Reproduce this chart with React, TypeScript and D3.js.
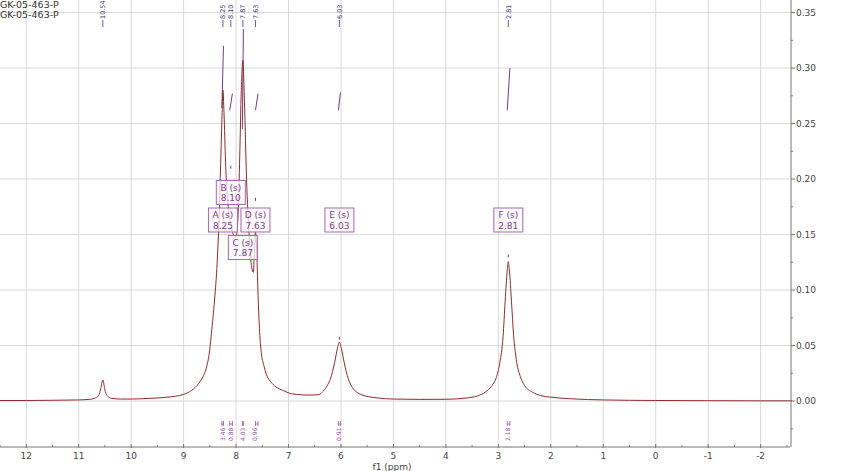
import { useMemo } from 'react';
import * as d3 from 'd3';

// spectrum trace (ppm, intensity)
const spectrumPpm = [
  12.6, 12.0, 11.5, 11.0, 10.8, 10.7, 10.62, 10.58, 10.54, 10.5, 10.46, 10.38, 10.2, 10.0,
  9.66, 9.3, 9.0, 8.85, 8.71, 8.62, 8.56, 8.5, 8.47, 8.41, 8.36, 8.32, 8.29, 8.265, 8.25, 8.23,
  8.2, 8.15, 8.1, 8.05, 8.0, 7.96, 7.93, 7.9, 7.87, 7.84, 7.8, 7.75, 7.7, 7.67, 7.65, 7.63,
  7.61, 7.58, 7.55, 7.52, 7.47, 7.43, 7.35, 7.24, 7.1, 6.99, 6.8, 6.67, 6.5, 6.41, 6.35, 6.3,
  6.25, 6.2, 6.12, 6.07, 6.03, 5.99, 5.94, 5.86, 5.78, 5.7, 5.6, 5.3, 5.0, 4.5, 4.0, 3.6,
  3.4, 3.25, 3.12, 3.04, 2.97, 2.91, 2.87, 2.83, 2.81, 2.79, 2.75, 2.71, 2.65, 2.58, 2.5, 2.35,
  2.2, 2.0, 1.6, 1.0, 0, -1, -2, -2.6,
];
const spectrumIntensity = [
  0.0005, 0.0005, 0.0007, 0.001, 0.0015, 0.0025, 0.005, 0.011, 0.019, 0.01, 0.005, 0.0025, 0.0018, 0.0018,
  0.0024, 0.0035, 0.006, 0.0095, 0.016, 0.023, 0.031, 0.047, 0.061, 0.091, 0.125, 0.17, 0.22, 0.26, 0.28, 0.26,
  0.215, 0.175, 0.16, 0.15, 0.148, 0.17, 0.22, 0.28, 0.307, 0.27, 0.2, 0.15, 0.12, 0.116, 0.135, 0.152,
  0.14, 0.095, 0.062, 0.044, 0.032, 0.025, 0.018, 0.0127, 0.0095, 0.0072, 0.0058, 0.0054, 0.0055, 0.006, 0.0085, 0.011,
  0.015, 0.02, 0.035, 0.047, 0.053, 0.047, 0.035, 0.02, 0.012, 0.008, 0.0055, 0.0028, 0.0018, 0.0015, 0.0016, 0.0028,
  0.0045, 0.008, 0.014, 0.021, 0.035, 0.058, 0.09, 0.118, 0.1255, 0.118, 0.09, 0.06, 0.035, 0.022, 0.014, 0.008,
  0.005, 0.0035, 0.002, 0.001, 0.0005, 0.0003, 0.0002, 0.0002,
];

// peak picking labels along the top
const peakPpm = [10.54, 8.25, 8.1, 7.87, 7.63, 6.03, 2.81];
const peakLabels = ['10.54', '8.25', '8.10', '7.87', '7.63', '6.03', '2.81'];

// peak markers drawn just above some peaks
const markerPpm = [8.1, 7.63, 6.03, 2.81];
const markerValue = [0.212, 0.183, 0.058, 0.132];

// multiplet boxes
const multipletNames = ['A', 'B', 'C', 'D', 'E', 'F'];
const multipletPpm = [8.25, 8.1, 7.87, 7.63, 6.03, 2.81];
const multipletLabels = ['8.25', '8.10', '7.87', '7.63', '6.03', '2.81'];

// integrals
const integralValues = ['3.46', '0.88', '4.03', '0.96', '0.91', '2.18'];
const integralStart = [8.27, 8.12, 7.88, 7.63, 6.05, 2.83];
const integralEnd = [8.24, 8.07, 7.86, 7.58, 6.01, 2.78];
const integralLow = [0.264, 0.262, 0.245, 0.262, 0.262, 0.262];
const integralHigh = [0.32, 0.277, 0.335, 0.277, 0.278, 0.3];

const xTicks = d3.range(12, -3, -1);
const yTicks = [0, 0.05, 0.1, 0.15, 0.2, 0.25, 0.3, 0.35];

const WIDTH = 845;
const HEIGHT = 471;
const FONT = '"DejaVu Sans", Verdana, sans-serif';

export default function App() {
  const plotRight = 790;
  const plotBottom = 447;

  const x = d3.scaleLinear().domain([12.5, -2.56]).range([0, plotRight]);
  const y = d3.scaleLinear().domain([-0.0414, 0.3613]).range([plotBottom, 0]);

  const spectrumPath = useMemo(() => {
    const pts = spectrumPpm.map((p, i) => [p, spectrumIntensity[i]] as [number, number]);
    return (
      d3
        .line<[number, number]>()
        .x((d) => x(d[0]))
        .y((d) => y(d[1]))
        .curve(d3.curveMonotoneX)(pts) || ''
    );
  }, []);

  const minorX = d3.range(12.5, -2.6, -0.5).filter((v) => !Number.isInteger(v));
  const minorY = d3.range(-0.025, 0.36, 0.05);

  // row offsets of the multiplet boxes (B sits above, C below)
  const boxRow = [0, -1, 1, 0, 0, 0];

  return (
    <svg
      width={WIDTH}
      height={HEIGHT}
      style={{ position: 'absolute', left: 0, top: 0, background: '#fff' }}
      fontFamily={FONT}
    >
      {/* grid */}
      <g stroke="#d9d9d9" strokeWidth={1}>
        {xTicks.map((t) => (
          <line key={'gx' + t} x1={x(t)} x2={x(t)} y1={0} y2={plotBottom} />
        ))}
        {yTicks.map((t) => (
          <line key={'gy' + t} x1={0} x2={plotRight} y1={y(t)} y2={y(t)} />
        ))}
      </g>

      {/* titles */}
      <text x={0} y={7.5} fontSize={9.5} fill="#333">GK-05-463-P</text>
      <text x={0} y={18} fontSize={9.5} fill="#333">GK-05-463-P</text>

      {/* integral curves */}
      <g stroke="#6e3b8c" strokeWidth={1} fill="none">
        {integralStart.map((s, i) => (
          <line
            key={'ic' + i}
            x1={x(s)}
            y1={y(integralLow[i])}
            x2={x(integralEnd[i])}
            y2={y(integralHigh[i])}
          />
        ))}
      </g>

      {/* spectrum */}
      <path d={spectrumPath} fill="none" stroke="#8e2c2c" strokeWidth={1} />

      {/* peak markers */}
      <g stroke="#6e3b8c" strokeWidth={1}>
        {markerPpm.map((p, i) => (
          <line key={'pm' + i} x1={x(p)} x2={x(p)} y1={y(markerValue[i])} y2={y(markerValue[i]) + 3} />
        ))}
      </g>

      {/* peak labels on top */}
      <g fill="#3b3b6e" fontSize={6.5}>
        {peakPpm.map((p, i) => (
          <g key={'pl' + i}>
            <text transform={`translate(${x(p) + 2.3},19) rotate(-90)`} textAnchor="start">
              {peakLabels[i]}
            </text>
            <line x1={x(p)} x2={x(p)} y1={20} y2={27} stroke="#3b3b6e" strokeWidth={0.8} />
          </g>
        ))}
      </g>

      {/* multiplet boxes */}
      {multipletPpm.map((p, i) => {
        const cx = x(p);
        const top = 208 + boxRow[i] * 27.5;
        return (
          <g key={'mb' + i}>
            <rect
              x={cx - 14.5}
              y={top}
              width={29}
              height={24}
              fill="#fbf5fb"
              fillOpacity={0.75}
              stroke="#a26aae"
              strokeWidth={1}
            />
            <text x={cx} y={top + 10} textAnchor="middle" fontSize={9} fill="#7a3f8c">
              {multipletNames[i]} (s)
            </text>
            <text x={cx} y={top + 20.5} textAnchor="middle" fontSize={9} fill="#7a3f8c">
              {multipletLabels[i]}
            </text>
          </g>
        );
      })}

      {/* integration brackets and values */}
      <g stroke="#9a4aa6" strokeWidth={0.8}>
        {integralStart.map((s, i) => (
          <g key={'ib' + i}>
            <line x1={x(s)} x2={x(integralEnd[i])} y1={424} y2={424} />
            <line x1={x(s)} x2={x(s)} y1={421} y2={426} />
            <line x1={x(integralEnd[i])} x2={x(integralEnd[i])} y1={421} y2={426} />
          </g>
        ))}
      </g>
      <g fill="#9a4aa6" fontSize={6}>
        {multipletPpm.map((p, i) => (
          <text key={'iv' + i} transform={`translate(${x(p) + 2},441) rotate(-90)`}>
            {integralValues[i]}
          </text>
        ))}
      </g>

      {/* x axis */}
      <g>
        <line x1={0} x2={plotRight} y1={plotBottom} y2={plotBottom} stroke="#777" />
        {xTicks.map((t) => (
          <g key={'xt' + t}>
            <line x1={x(t)} x2={x(t)} y1={plotBottom - 3} y2={plotBottom + 1} stroke="#777" />
            <text x={x(t)} y={459} textAnchor="middle" fontSize={9} fill="#444">
              {t}
            </text>
          </g>
        ))}
        {minorX.map((t) => (
          <line key={'xm' + t} x1={x(t)} x2={x(t)} y1={plotBottom - 2} y2={plotBottom} stroke="#777" />
        ))}
        <text x={392} y={470} textAnchor="middle" fontSize={9} fill="#444">
          f1 (ppm)
        </text>
      </g>

      {/* y axis */}
      <g>
        <line x1={plotRight + 1} x2={plotRight + 1} y1={0} y2={plotBottom} stroke="#777" />
        {yTicks.map((t) => (
          <g key={'yt' + t}>
            <line x1={plotRight + 1} x2={plotRight + 5} y1={y(t)} y2={y(t)} stroke="#777" />
            <text x={plotRight + 6} y={y(t) + 3.3} fontSize={9} fill="#444">
              {t.toFixed(2)}
            </text>
          </g>
        ))}
        {minorY.map((t) => (
          <line key={'ym' + t} x1={plotRight + 1} x2={plotRight + 3} y1={y(t)} y2={y(t)} stroke="#777" />
        ))}
      </g>
    </svg>
  );
}
